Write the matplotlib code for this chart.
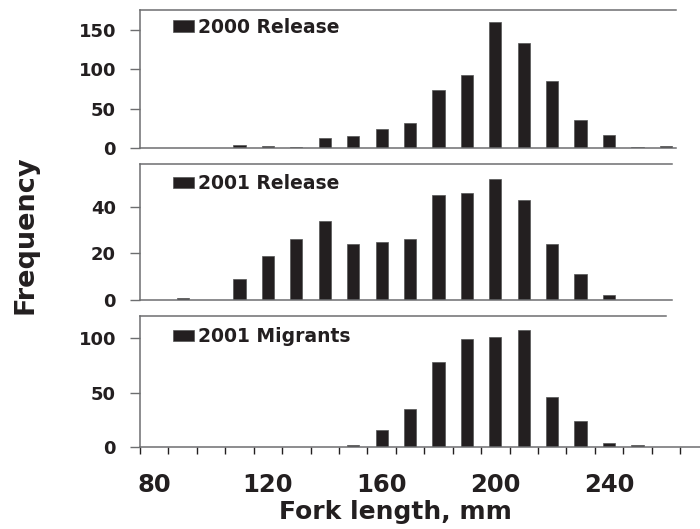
import matplotlib.pyplot as plt
import numpy as np

# fork length bins (mm) and counts per bin
bins = [90, 100, 110, 120, 130, 140, 150, 160, 170, 180, 190, 200, 210, 220, 230, 240, 250, 260]
release_2000 = [0, 0, 4, 3, 2, 13, 16, 25, 32, 74, 93, 160, 133, 85, 36, 17, 2, 3]
release_2001 = [1, 0, 9, 19, 26, 34, 24, 25, 26, 45, 46, 52, 43, 24, 11, 2, 0, 0]
migrants_2001 = [0, 0, 0, 0, 0, 0, 2, 16, 35, 78, 99, 101, 108, 46, 24, 4, 2, 0]

labels = ['2000 Release', '2001 Release', '2001 Migrants']
yticks = [[0, 50, 100, 150], [0, 20, 40], [0, 50, 100]]
ylims = [175.3, 58.2, 120.8]
xlabels = [80, 120, 160, 200, 240]
edges = np.arange(75, 266, 10)

ink = '#231f20'
grey = '#6d6e70'
plt.rcParams['font.family'] = 'DejaVu Sans'
plt.rcParams['font.weight'] = 'bold'

fig = plt.figure(figsize=(7.0, 5.29), dpi=100)
boxes = [[0.2, 0.7197, 0.8, 0.2614],
         [0.2, 0.4329, 0.8, 0.2565],
         [0.2, 0.1550, 0.8, 0.2482]]
leg_y = [0.877, 0.857, 0.838]
right_ends = [(263.4, 263.4), (262.2, 262.2), (260.0, None)]

series = [release_2000, release_2001, migrants_2001]
for i in range(3):
    ax = fig.add_axes(boxes[i])
    b = ax.bar(bins, series[i], width=4.3, color=ink, edgecolor='#555555', linewidth=0.5)
    ax.set_xlim(75, 272.0)
    ax.set_ylim(0, ylims[i])
    ax.set_yticks(yticks[i])
    ax.tick_params(axis='y', length=7.2, width=1, color=grey, pad=10,
                   labelsize=13, labelcolor=ink)
    ax.spines['right'].set_visible(False)
    for s in ['left', 'top', 'bottom']:
        ax.spines[s].set_color(grey)
        ax.spines[s].set_linewidth(1.1)
    ax.spines['top'].set_bounds(75, right_ends[i][0])
    if right_ends[i][1] is not None:
        ax.spines['bottom'].set_bounds(75, right_ends[i][1])
    ax.legend([b], [labels[i]], loc='center left', bbox_to_anchor=(0.059, leg_y[i]),
              frameon=False, borderpad=0, borderaxespad=0, handlelength=1.1,
              handleheight=0.55, handletextpad=0.25,
              prop=dict(weight='bold', size=13.5))
    for t in ax.get_legend().get_texts():
        t.set_color(ink)
    if i < 2:
        ax.tick_params(axis='x', which='both', bottom=False, labelbottom=False)
    else:
        ax.set_xticks(xlabels)
        ax.set_xticks(edges, minor=True)
        ax.tick_params(axis='x', which='major', length=0, pad=18.5,
                       labelsize=17.5, labelcolor=ink)
        ax.tick_params(axis='x', which='minor', length=5, width=1, color=ink)
        ax.set_xlabel('Fork length, mm', fontsize=18, fontweight='bold', color=ink)
        ax.xaxis.set_label_coords(0.457, -0.40)

fig.text(0.036, 0.556, 'Frequency', rotation=90, ha='center', va='center',
         fontsize=19.5, fontweight='bold', color=ink)

fig.savefig('out.png', dpi=100)
